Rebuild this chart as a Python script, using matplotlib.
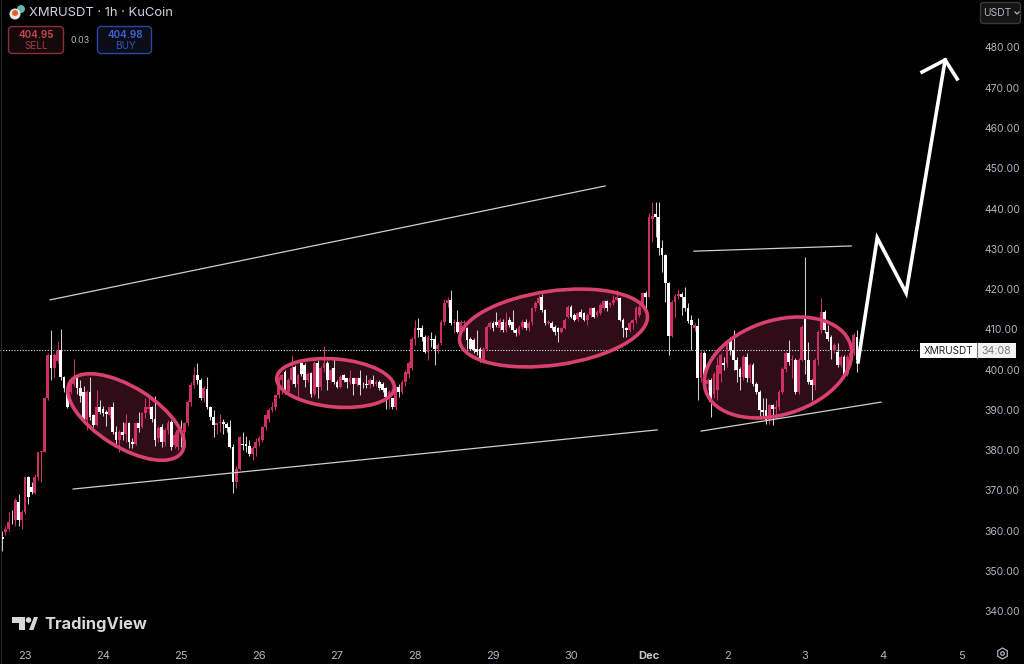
import numpy as np
import matplotlib
matplotlib.use("Agg")
import matplotlib.pyplot as plt
from matplotlib.patches import Ellipse, FancyBboxPatch, Circle, Polygon, RegularPolygon

plt.rcParams['font.family'] = ['Inter', 'DejaVu Sans']

# 1h candles
opens = [
    358.5,359.7,360.5,364.2,362.5,367,362.5,364.6,373.4,370.8,369.2,373.3,379.5,379.6,393,403.6,400.3,402,404.8,398.2,
    395.3,394.5,396.5,397.8,395.3,394.5,387.4,394.5,388.7,386.2,390.7,390.3,389.5,388.7,390.7,384.5,382.4,384.5,384,386.8,
    382,381.6,386.8,385.8,389.1,390.3,390.7,387.8,382.9,385.6,382,384.9,387,381.2,380.8,385.4,384.5,386.6,392,396.1,
    398.6,397.4,392.8,395.1,390.6,388.1,386.2,386.6,387,386.4,385.8,380.8,372.1,375.4,381.5,381.5,381,379.1,380.4,382,
    382.5,385.8,387.8,389.9,390.7,393.6,397.4,399.4,394.5,397.4,400.7,396.5,401.5,401.1,397.4,399.2,394,401.5,395.7,400.3,
    401.5,397.4,400.3,397,395.7,398.6,397.8,397,397.8,396.5,397.8,396.5,396.5,396.1,397.5,396.4,397,396.5,395.3,392.8,
    392.8,390.7,395.7,394.5,397,399,400.3,407.7,410.2,410.2,408.1,404.4,407.7,407.7,405.2,406.5,411.9,416.4,417.3,411.5,
    411.9,409.4,411.5,410.2,407.7,407.3,405.2,405.2,402.3,405.2,410.6,411.5,411.9,410.2,411.9,409.8,412.3,411.9,409.8,409,
    410.6,411.9,410.2,411.9,415.2,416.4,418.1,414.8,411.5,411.5,410.6,410.2,409.4,410.2,413.1,415.6,413.5,412.5,414.4,414,
    412.3,413.5,415.2,413.5,414,415.2,416.9,416,416.4,417.3,417.7,412.3,410.2,409.8,411.5,412.3,413.5,415.6,418.9,
    418.1,437.3,438.6,438,430.1,428.4,421.4,408.3,416.8,418.2,418.7,418.1,415.4,412.3,410.2,410.8,397.8,404,396.5,397.5,
    394,394.9,399,401.5,401.5,407.1,404.8,402.3,400.2,398.2,403.2,397.8,401.2,396.5,394.5,389.9,389.9,387.4,391.1,390.3,
    390.7,394.5,400.2,404,402.3,402.3,394.5,402.3,412.7,402.3,397.3,396.1,402.3,409.8,414.3,409.4,408.1,404.8,404.4,401.1,403.2,399,403.2,404,408.1,
]
closes = [
    358,360.5,362.1,364,367.5,362.5,364.6,373.4,368.4,369.6,373.3,379.5,379.7,393,403.6,400.3,403.6,404.8,398.2,395.3,
    390.7,396.5,397.8,395.3,393.4,387.4,394.5,388.3,386.2,390.7,389.5,389.1,388.9,390.7,384.5,382.4,384.5,383.7,386.6,382,
    381.5,386.6,385.4,389.1,390.7,390.7,387.8,382.4,385.4,382,384.9,386.6,380.8,383.7,384.9,384.9,386.6,392,396.1,398.6,
    397.4,392.8,395.3,390.6,388.3,386.2,386.6,387,386.4,385.4,380.8,372.1,375.4,383.3,381.2,381,379.1,380.4,382,382.9,
    385.8,388.7,389.9,390.7,393.6,398,398.6,394.5,397.4,400.3,396.5,398.6,399,397.4,399,394,401.5,395.7,400.3,401.5,
    397.4,399.9,397,395.7,398.2,397.5,397,397.8,396.5,397.8,396.1,396.3,396.1,397.4,396.5,397,395.3,394.9,393.2,394.5,
    390.7,395.7,394.5,397,399.4,401.5,407.7,410.2,409.8,408.1,404.4,408.1,407.3,405.2,406,411.9,416.4,417.3,411.5,411.9,
    409.4,411.9,411.9,407.3,405.2,404.8,404.4,402.3,405.2,410.6,411.5,410.2,411,412.3,409.8,411.9,411,409.8,409,410.6,
    411.9,410.2,411.5,415.2,416.4,417.7,414.8,411.5,411.9,410.2,409.4,409.4,410.2,412.3,415.6,413.1,412.3,414,413.1,412.3,
    413.5,415.2,413.1,414.4,416,416.9,415.2,416.4,417.3,418.1,412.3,410.2,409.8,411.5,412.3,415.2,415.6,418.9,418.1,
    438,438.1,438,430.1,428.4,421.4,408.3,416.8,418.2,418.7,418.1,415.2,412.1,411,411,397.8,404,396.5,397.3,392,
    399,401.1,403.6,401.1,406.9,404.8,402.3,399.8,398.2,403.2,397.8,401.1,396.5,394.5,389.9,389.5,387.4,391.1,390.3,390.7,
    394.5,400.2,404,401.9,402.7,394.5,402.3,410.6,402.3,396.9,396.1,402.3,409.4,414.3,409.8,407.7,404.8,406,401.1,403.2,398.6,403.2,404,408.5,402.3,
]
highs = [
    360,361,364.5,365,368,369,365,373.6,373.6,372,374,379.6,379.8,393.2,404,409.8,404,407,410,398.5,
    395.5,397,402.5,398.3,397.5,396,395,398.2,389,394.8,392.5,391,390,391,392,386,385,387,389,387,
    383,387,389.5,389.5,393,393,391,393.3,386,386.5,385.5,387.5,387.5,384.5,386,387.5,387,392.5,396.8,400.7,
    401.5,398,396,398.2,391,390,387,389,387.8,387,387.5,381.6,376,383.5,384.5,383.5,382.5,381,383,383.5,
    386,389,390.5,392,394,398.5,399,399.8,398,403.6,401,399,401.9,401.5,399.5,399.5,402,402.3,400.8,405.9,
    402,400.2,402.8,397.5,398.6,399,398,399.9,398,398,399.9,397,398.6,398,398.6,397.5,397.3,397,395.6,395,
    393,396,396.5,397.5,400,402,408,412.3,412.7,411,408.5,408.5,409.4,408.5,406.5,412.3,417.5,418,419.8,412.5,
    414.8,412.3,412.3,410.5,408,407.8,409.8,405.5,405.5,411,412,412,414.3,412.8,412.5,414.3,413,414.8,410.3,411,
    412.3,412.5,412,415.6,417,418.5,418.7,415,412.4,412,411,410.5,410.6,412.8,416,416,414,414.4,415,414.4,
    414,415.6,415.6,414.8,416.4,417.3,417.3,416.8,418.5,419.8,418.1,412.7,410.6,412,412.6,415.7,416,419.2,419.5,
    439,441.7,441.7,441.7,432.2,428.8,421.8,417.2,418.8,420.1,419.2,420.6,416.5,413.5,411.5,412.7,404.5,404.5,398,398,
    399.5,403,404,403,407.3,408,409.8,403,400.7,403.6,404,401.5,401.5,397,395,393,393,391.5,391.5,392.4,
    395,400.7,404.5,407.3,403.5,402.8,402.8,411,427.9,406.9,397.7,402.8,409.8,417.7,414.8,411,408.5,406.5,406.5,403.6,403.6,403.6,404.5,409,409.8,
]
lows = [
    355,359,360,361.5,361,361,360.5,364,366.5,369,369,372.5,372,379.5,392.5,397.5,398,401.5,397.5,394.5,
    390.5,394,396,394,392,387,385,387.5,385.8,386,389,388.5,386,388,384,381.5,379.5,382.5,382,380.5,
    380.5,381.3,384.5,385.5,388,389,387,381,382,380.8,381,384,380,380.5,380,380.8,381,386,391,395.5,
    396.5,392.5,392,390.3,387.5,383.3,384,384.5,384,384.5,380.5,369.2,370.5,375,380,379.5,378.5,377.5,378.5,381,
    382,385,387,389.5,390,393,394,394,394,396.5,395.7,393,398.5,395.7,397,393.2,393.5,393,395,399.5,
    394.9,397,396.5,395.3,395.3,397,395.3,396.5,393.6,396,393.6,395.5,395.5,395.5,396,396,395,394.5,390.3,390.3,
    390.2,390,393.2,394,396,398,400,406,408,407,404,402.3,405.5,401.1,404,406,411,415.5,411,409,
    409,409,409.5,405,404.8,404,403.5,401.9,401.5,404.8,410,409.6,410.5,409.5,409.4,409.3,410.5,409.4,408.3,408.5,
    410,409.8,409.5,411,414.5,416,414.3,411,411,409.8,408.5,406.9,409,410,412.8,412.8,412,412,412.8,412,
    411,413,412.8,413,413.5,414.8,414.5,415.5,416,417,412,408.1,408.1,409.4,410,411.5,413,415,413,
    418,431.8,433,428.5,424.3,416.8,403.6,408,413.1,417.5,413.5,414.5,411.5,404.8,409.5,392.4,397,396,395,388.2,
    393,392.5,397,400,400.5,403.5,400,397,395,397.5,397,397,396,394,388.2,388.5,386.5,386.5,386.2,388,
    390,394,399.5,401,398,393.8,394,402,399,396.5,392.4,395,401,409,409,407,402.7,404,400.5,400.5,398,398.5,402.5,403.5,399.4,
]
first_hour = -7  # hours from Nov 23 00:00

# drawings: (hour, price)
channel_top = ([7.7, 178.5], [417.3, 445.6])
channel_bottom = ([14.8, 194.5], [370.3, 385])
flat_line = ([205.8, 254.2], [429.4, 430.7])
rising_line = ([208, 263.4], [384.7, 391.9])
arrow_path = ([256.3, 262.2, 271.1, 283.1], [401.9, 432.7, 419, 476.9])
arrow_head = ([276, 283.1, 286.8], [473.9, 476.9, 472.2])

# ellipses in picture pixels: cx, cy, semi major, semi minor, angle
zones = [
    (126, 417, 66, 30, 32),
    (335.5, 383, 59, 24, 5),
    (553.5, 328, 94.8, 37, -8),
    (778, 367.5, 76, 47, -18),
]

price_ticks = list(range(340, 490, 10))
day_hours = [0, 24, 48, 72, 96, 120, 144, 168, 192, 216, 240, 264, 288]
day_labels = ['23', '24', '25', '26', '27', '28', '29', '30', 'Dec', '2', '3', '4', '5']
last_price = 404.8

BG = '#000000'
PINK = '#cc3162'
RING = '#d8406d'
GREY = '#b2b5be'

W, H = 1024, 664
fig = plt.figure(figsize=(W / 100, H / 100), dpi=100, facecolor=BG)
ax = fig.add_axes([0, 1 - 640 / H, 977 / W, 640 / H], facecolor=BG)
over = fig.add_axes([0, 0, 1, 1], facecolor='none', zorder=5)
over.set_xlim(0, W)
over.set_ylim(H, 0)
over.axis('off')

hours = np.arange(len(closes)) + first_hour
o = np.array(opens)
c = np.array(closes)
h = np.array(highs)
l = np.array(lows)
up = c >= o

# zone fill goes behind the candles, the ring on top
for cx, cy, a, b, ang in zones:
    ax.add_patch(Ellipse((cx, cy), 2 * a, 2 * b, angle=ang, transform=over.transData,
                         facecolor='#2e0c18', edgecolor='none', zorder=1))

ax.axhline(last_price, color='#e8e8e8', lw=0.8, ls=(0, (1, 1.5)), zorder=1.5)

ax.vlines(hours[up], l[up], h[up], color=PINK, lw=0.75, zorder=2)
ax.vlines(hours[~up], l[~up], h[~up], color='#d0d0d0', lw=0.75, zorder=2)
ax.bar(hours[up], (c - o)[up], bottom=o[up], width=0.85, color=PINK, lw=0, zorder=3)
ax.bar(hours[~up], (c - o)[~up], bottom=o[~up], width=0.85, color='white', lw=0, zorder=3)

for cx, cy, a, b, ang in zones:
    ax.add_patch(Ellipse((cx, cy), 2 * a, 2 * b, angle=ang, transform=over.transData,
                         facecolor='none', edgecolor=RING, lw=2.6, zorder=4))

for xs, ys in [channel_top, channel_bottom, flat_line, rising_line]:
    ax.plot(xs, ys, color='#cfcfcf', lw=0.9, zorder=5)
ax.plot(*arrow_path, color='white', lw=2.6, zorder=6, solid_joinstyle='miter')
ax.plot(*arrow_head, color='white', lw=2.6, zorder=6, solid_joinstyle='miter')

ax.set_xlim(-7.692, 292.9)
ax.set_ylim(332.8, 491.8)
ax.yaxis.tick_right()
ax.set_yticks(price_ticks)
ax.set_yticklabels(['%.2f' % p for p in price_ticks])
ax.set_xticks(day_hours)
ax.set_xticklabels(day_labels)
ax.tick_params(axis='y', length=0, pad=5, labelsize=7.5, labelcolor=GREY)
ax.tick_params(axis='x', length=0, pad=8, labelsize=8, labelcolor=GREY)
ax.get_xticklabels()[8].set_fontweight('bold')
ax.get_xticklabels()[8].set_color('#c8c8c8')
for s in ax.spines.values():
    s.set_visible(False)

# thin edge of the screenshot
over.plot([0.5, 0.5], [0, H], color='#2a2a2a', lw=0.8)

# header
over.add_patch(Circle((21, 9), 4, color='#5fb7ad', lw=0))
over.add_patch(Circle((15, 14), 5.5, color='#e8e8e8', lw=0))
over.add_patch(Circle((15, 13), 3, color='#e0622a', lw=0))
over.text(29, 12.5, 'XMRUSDT · 1h · KuCoin', color='#d1d4dc', fontsize=9.4, va='center', ha='left')

over.add_patch(FancyBboxPatch((8.5, 26.5), 55, 27, boxstyle='round,pad=0,rounding_size=4',
                              facecolor='#140a0b', edgecolor='#8a2f36', lw=1))
over.text(36, 34.5, '404.95', color='#c8454d', fontsize=7.2, fontweight='semibold', ha='center', va='center')
over.text(36, 46, 'SELL', color='#a83a42', fontsize=7.2, ha='center', va='center')
over.text(80, 40.5, '0.03', color=GREY, fontsize=6.4, ha='center', va='center')
over.add_patch(FancyBboxPatch((97.5, 26.5), 54, 27, boxstyle='round,pad=0,rounding_size=4',
                              facecolor='#0a0c16', edgecolor='#2a46a8', lw=1))
over.text(125, 34.5, '404.98', color='#3f63d6', fontsize=7.2, fontweight='semibold', ha='center', va='center')
over.text(125, 46, 'BUY', color='#3353b8', fontsize=7.2, ha='center', va='center')

# currency button
over.add_patch(FancyBboxPatch((980.5, 2.5), 40, 21, boxstyle='round,pad=0,rounding_size=3',
                              facecolor='#141414', edgecolor='#3a3a3a', lw=1))
over.text(983.5, 13, 'USDT', color=GREY, fontsize=7.4, ha='left', va='center')
over.plot([1015, 1017, 1019], [12, 14, 12], color=GREY, lw=0.9)

# last price label
over.add_patch(plt.Rectangle((920, 343), 57, 15, facecolor='white', lw=0))
over.add_patch(plt.Rectangle((977, 343), 39, 15, facecolor='#f2f2f2', lw=0))
over.plot([977, 977], [343, 358], color='#777777', lw=0.8)
over.text(948.5, 350.5, 'XMRUSDT', color='#222222', fontsize=7.2, ha='center', va='center')
over.text(996.5, 350.5, '34:08', color='#777777', fontsize=7.6, ha='center', va='center')

# logo
logo = '#d8d8d8'
over.add_patch(Polygon([(12, 617), (25, 617), (25, 630), (19, 630), (19, 623), (12, 623)], color=logo, lw=0))
over.add_patch(Circle((28.5, 620), 2.8, color=logo, lw=0))
over.add_patch(Polygon([(29, 630), (34, 617), (38, 617), (33.5, 630)], color=logo, lw=0))
over.text(44, 624, 'TradingView', color=logo, fontsize=11.8, fontweight='bold', ha='left', va='center')

# settings gear
over.add_patch(RegularPolygon((1002.5, 653.5), 6, radius=5.5, facecolor='none', edgecolor=GREY, lw=0.9))
over.add_patch(Circle((1002.5, 653.5), 1.8, facecolor='none', edgecolor=GREY, lw=0.9))

fig.savefig('out.png', dpi=100, facecolor=BG)
